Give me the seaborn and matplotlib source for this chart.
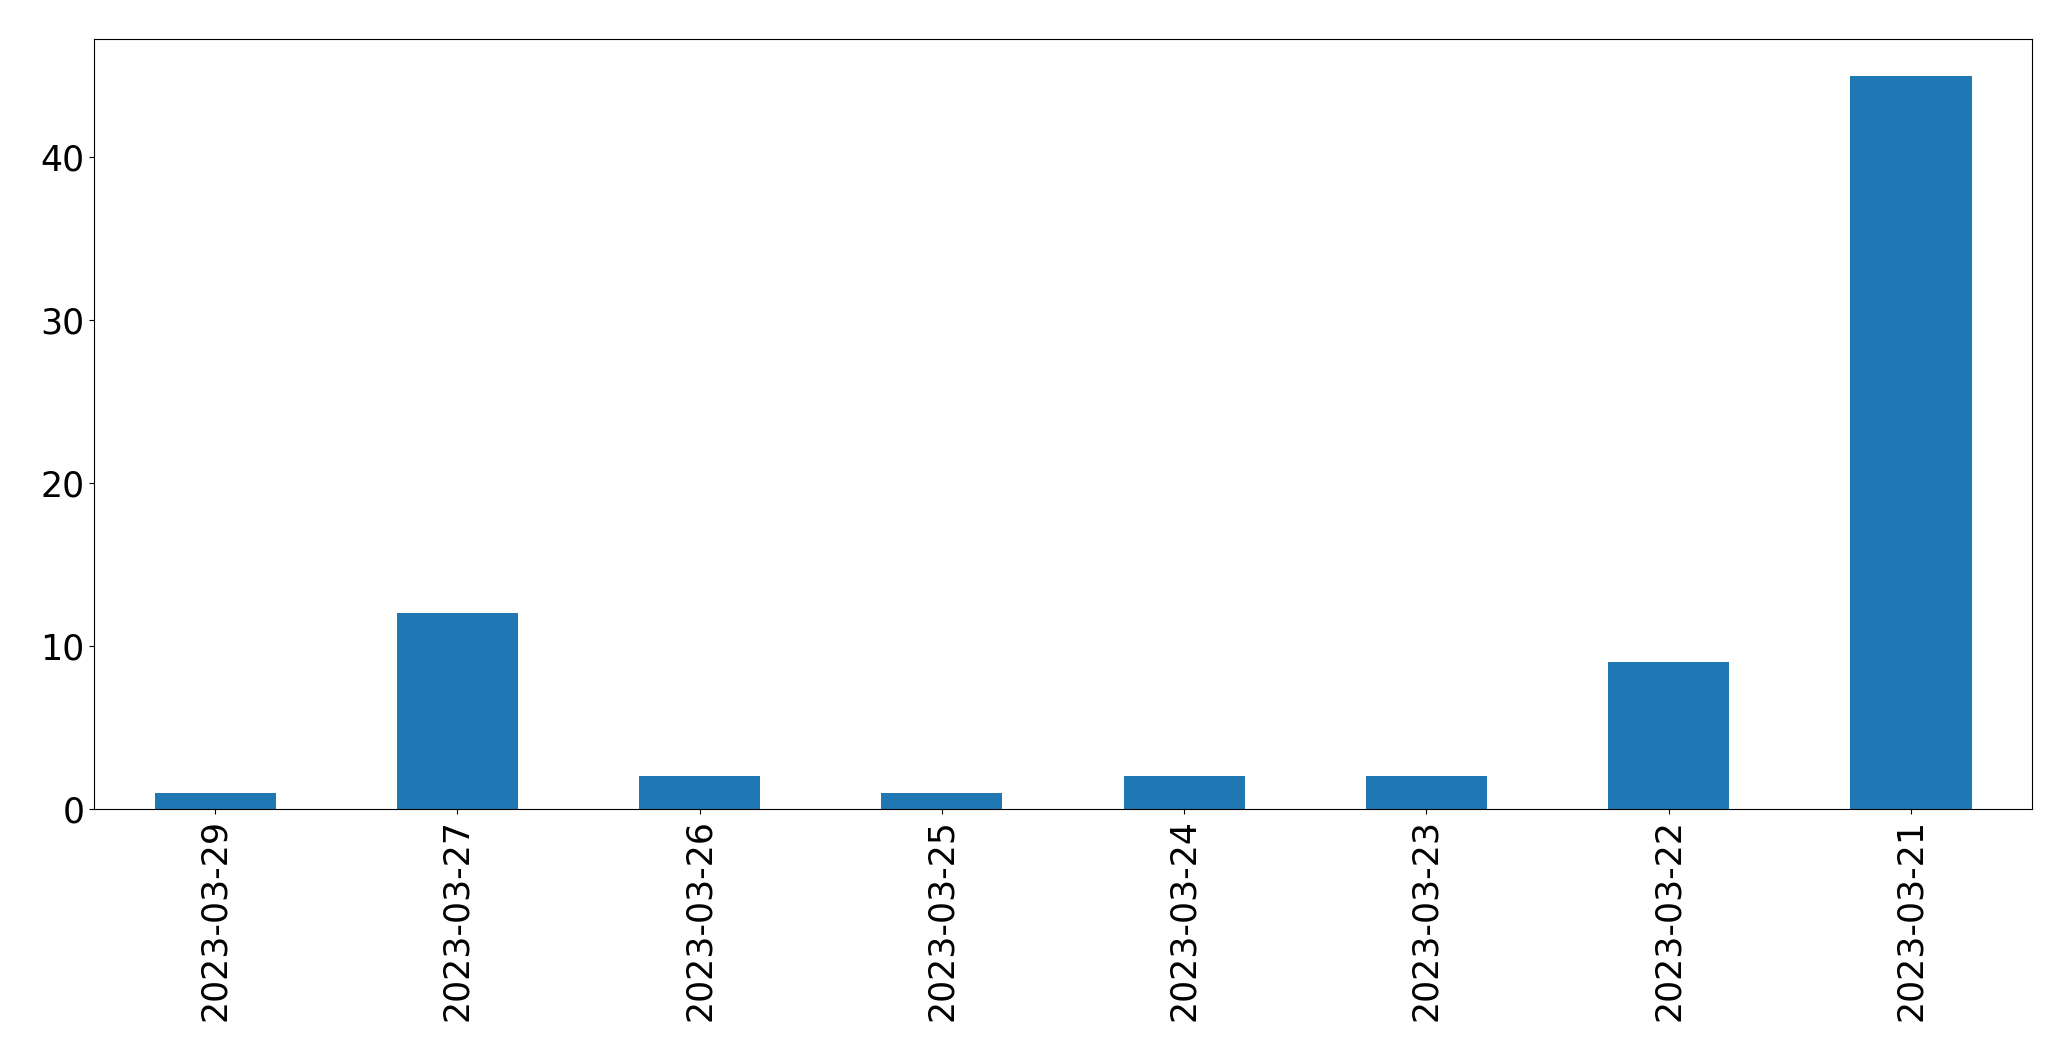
import matplotlib
matplotlib.use("Agg")
import matplotlib.pyplot as plt
import seaborn as sns
import pandas as pd

dates = ["2023-03-29", "2023-03-27", "2023-03-26", "2023-03-25",
         "2023-03-24", "2023-03-23", "2023-03-22", "2023-03-21"]
counts = [1, 12, 2, 1, 2, 2, 9, 45]

df = pd.DataFrame({"date": dates, "count": counts})

fig, ax = plt.subplots(figsize=(20.71, 10.61), dpi=100)
fig.subplots_adjust(left=0.0454, right=0.9812, top=0.9632, bottom=0.2375)

sns.barplot(data=df, x="date", y="count", order=dates, color="#1f77b4",
            saturation=1, width=0.5, linewidth=0, ax=ax)

ax.set_xlim(-0.5, len(dates) - 0.5)
ax.set_ylim(0, 47.25)
ax.set_xlabel("")
ax.set_ylabel("")
ax.tick_params(axis="both", labelsize=25)
ax.tick_params(axis="x", labelrotation=90)
ax.set_yticks([0, 10, 20, 30, 40])

fig.savefig("out.png", dpi=100)
